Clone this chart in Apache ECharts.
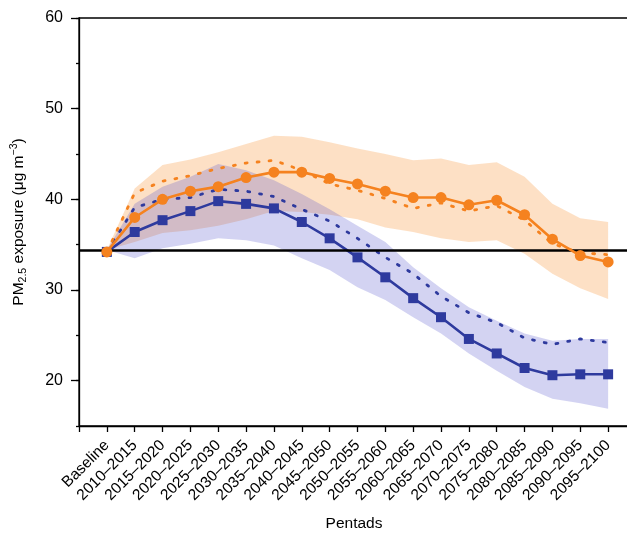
<!DOCTYPE html>
<html>
<head>
<meta charset="utf-8">
<script src="https://cdn.jsdelivr.net/npm/echarts@6/dist/echarts.min.js"></script>
<style>
  html, body { margin: 0; padding: 0; background: #fff; }
  #main { width: 627px; height: 533px; }
</style>
</head>
<body>
<div id="main"></div>
<script>
// pentads on the x axis
var categories = ['Baseline', '2010–2015', '2015–2020', '2020–2025', '2025–2030', '2030–2035',
  '2035–2040', '2040–2045', '2045–2050', '2050–2055', '2055–2060', '2060–2065', '2065–2070',
  '2070–2075', '2075–2080', '2080–2085', '2085–2090', '2090–2095', '2095–2100'];

// RCP8.5 (orange)
var rcp85 = [34.2, 38.0, 40.0, 40.9, 41.4, 42.4, 43.0, 43.0, 42.3, 41.7, 40.9, 40.2, 40.2, 39.4, 39.9, 38.3, 35.6, 33.8, 33.1];
var rcp85Dotted = [34.2, 40.7, 42.0, 42.6, 43.4, 44.0, 44.3, 43.2, 41.7, 41.0, 40.1, 39.0, 39.6, 38.7, 39.3, 37.7, 35.1, 34.1, 33.9];
var rcp85High = [34.4, 41.2, 43.8, 44.4, 45.2, 46.1, 47.0, 46.9, 46.3, 45.6, 45.0, 44.3, 44.5, 43.8, 44.1, 42.5, 39.5, 37.9, 37.5];
var rcp85Low = [34.4, 35.3, 36.3, 36.6, 37.1, 37.8, 38.7, 38.6, 38.3, 37.8, 36.9, 36.4, 35.7, 35.3, 35.5, 34.0, 31.8, 30.2, 29.0];

// RCP4.5 (blue)
var rcp45 = [34.2, 36.4, 37.7, 38.7, 39.8, 39.5, 39.0, 37.5, 35.7, 33.6, 31.4, 29.1, 27.0, 24.6, 23.0, 21.4, 20.6, 20.7, 20.7];
var rcp45Dotted = [34.2, 39.1, 40.0, 40.2, 41.1, 40.9, 40.3, 38.9, 37.6, 35.7, 33.6, 31.8, 29.3, 27.5, 26.4, 24.7, 24.0, 24.6, 24.2];
var rcp45High = [34.4, 39.5, 41.4, 42.5, 43.9, 43.2, 42.1, 40.6, 38.9, 37.1, 35.3, 32.5, 30.2, 28.1, 26.6, 25.2, 24.4, 24.6, 24.6];
var rcp45Low = [34.4, 33.5, 34.6, 35.1, 35.7, 35.5, 34.9, 33.5, 32.2, 30.3, 28.9, 27.0, 25.2, 23.0, 21.1, 19.3, 18.0, 17.5, 16.9];

var baselineLevel = 34.4;
var yLabels = [20, 30, 40, 50, 60];

var ORANGE = '#f5821f';
var BLUE = '#2e3a9e';
var FONT = '"Liberation Sans", Arial, Helvetica, sans-serif';

function pairs(values) {
  return values.map(function (v, i) { return [i, v]; });
}

function band(name, high, low, fill) {
  return {
    name: name,
    type: 'custom',
    silent: true,
    z: 1,
    data: [[0, high[0]]],
    renderItem: function (params, api) {
      var top = high.map(function (v, i) { return api.coord([i, v]); });
      var bottom = low.map(function (v, i) { return api.coord([i, v]); }).reverse();
      return {
        type: 'polygon',
        shape: { points: top.concat(bottom) },
        style: { fill: fill }
      };
    }
  };
}

var chart = echarts.init(document.getElementById('main'), null, { renderer: 'canvas' });

var option = {
  animation: false,
  textStyle: { fontFamily: FONT },
  grid: {
    left: 79,
    top: 18,
    right: -2,
    bottom: 107,
    outerBoundsMode: 'none',
    containLabel: false,
    show: true,
    borderColor: '#000',
    borderWidth: 1.3,
    backgroundColor: 'transparent'
  },
  xAxis: {
    type: 'value',
    min: -1,
    max: 18.75,
    interval: 1,
    name: 'Pentads',
    nameLocation: 'middle',
    nameGap: 90,
    nameTextStyle: { color: '#000', fontSize: 15.5, fontFamily: FONT },
    splitLine: { show: false },
    axisLine: { onZero: false, lineStyle: { color: '#000', width: 1.3 } },
    axisTick: { length: 6, lineStyle: { color: '#000', width: 1.3 } },
    axisLabel: {
      rotate: 45,
      margin: 17,
      color: '#000',
      fontSize: 15.5,
      fontFamily: FONT,
      showMaxLabel: false,
      formatter: function (v) { return categories[v] || ''; }
    }
  },
  yAxis: [{
    type: 'value',
    min: 15,
    max: 60,
    interval: 5,
    position: 'left',
    name: '{a|PM}{sub|2.5}{a| exposure (μg m}{sup|−3}{a|)}',
    nameLocation: 'middle',
    nameRotate: 90,
    nameGap: 50,
    nameTextStyle: {
      color: '#000',
      fontSize: 15.5,
      fontFamily: FONT,
      rich: {
        a: { fontSize: 15.5, color: '#000', fontFamily: FONT },
        sub: { fontSize: 10.5, color: '#000', fontFamily: FONT, padding: [9, 0, 0, 0] },
        sup: { fontSize: 10.5, color: '#000', fontFamily: FONT, padding: [0, 0, 9, 0] }
      }
    },
    splitLine: { show: false },
    axisLine: { onZero: false, lineStyle: { color: '#000', width: 1.3 } },
    axisTick: { length: 3, lineStyle: { color: '#000', width: 1.3 } },
    axisLabel: {
      margin: 16,
      color: '#000',
      fontSize: 16,
      fontFamily: FONT,
      formatter: function (v) { return v % 10 === 0 ? String(v) : ''; }
    }
  }, {
    type: 'value',
    min: 15,
    max: 60,
    position: 'left',
    splitLine: { show: false },
    axisLine: { show: false, onZero: false },
    axisLabel: { show: false },
    axisTick: { length: 8, customValues: yLabels, lineStyle: { color: '#000', width: 1.3 } }
  }],
  series: [
    band('RCP8.5 range', rcp85High, rcp85Low, 'rgba(247,140,40,0.27)'),
    band('RCP4.5 range', rcp45High, rcp45Low, 'rgba(70,70,200,0.24)'),
    {
      name: 'baseline',
      type: 'line',
      data: [],
      z: 2,
      markLine: {
        silent: true,
        symbol: 'none',
        label: { show: false },
        lineStyle: { color: '#000', width: 2.6, type: 'solid' },
        data: [{ yAxis: baselineLevel }]
      }
    },
    {
      name: 'RCP4.5 dotted',
      type: 'line',
      data: pairs(rcp45Dotted),
      z: 3,
      showSymbol: false,
      lineStyle: { color: BLUE, width: 2.8, type: [2, 10], cap: 'round' }
    },
    {
      name: 'RCP8.5 dotted',
      type: 'line',
      data: pairs(rcp85Dotted),
      z: 3,
      showSymbol: false,
      lineStyle: { color: ORANGE, width: 2.8, type: [2, 10], cap: 'round' }
    },
    {
      name: 'RCP4.5',
      type: 'line',
      data: pairs(rcp45),
      z: 4,
      symbol: 'rect',
      symbolSize: 10,
      itemStyle: { color: BLUE },
      lineStyle: { color: BLUE, width: 2.6 },
      markPoint: {
        silent: true,
        symbol: 'none',
        label: { show: true, formatter: 'RCP4.5', color: '#3b45b0', fontSize: 15.5, fontFamily: FONT },
        data: [{ coord: [11.4, 20.4] }]
      }
    },
    {
      name: 'RCP8.5',
      type: 'line',
      data: pairs(rcp85),
      z: 5,
      symbol: 'circle',
      symbolSize: 11,
      itemStyle: { color: ORANGE },
      lineStyle: { color: ORANGE, width: 2.6 },
      markPoint: {
        silent: true,
        symbol: 'none',
        label: { show: true, formatter: 'RCP8.5', color: ORANGE, fontSize: 15.5, fontFamily: FONT },
        data: [{ coord: [15.5, 45.1] }]
      }
    }
  ]
};

chart.setOption(option);
</script>
</body>
</html>
